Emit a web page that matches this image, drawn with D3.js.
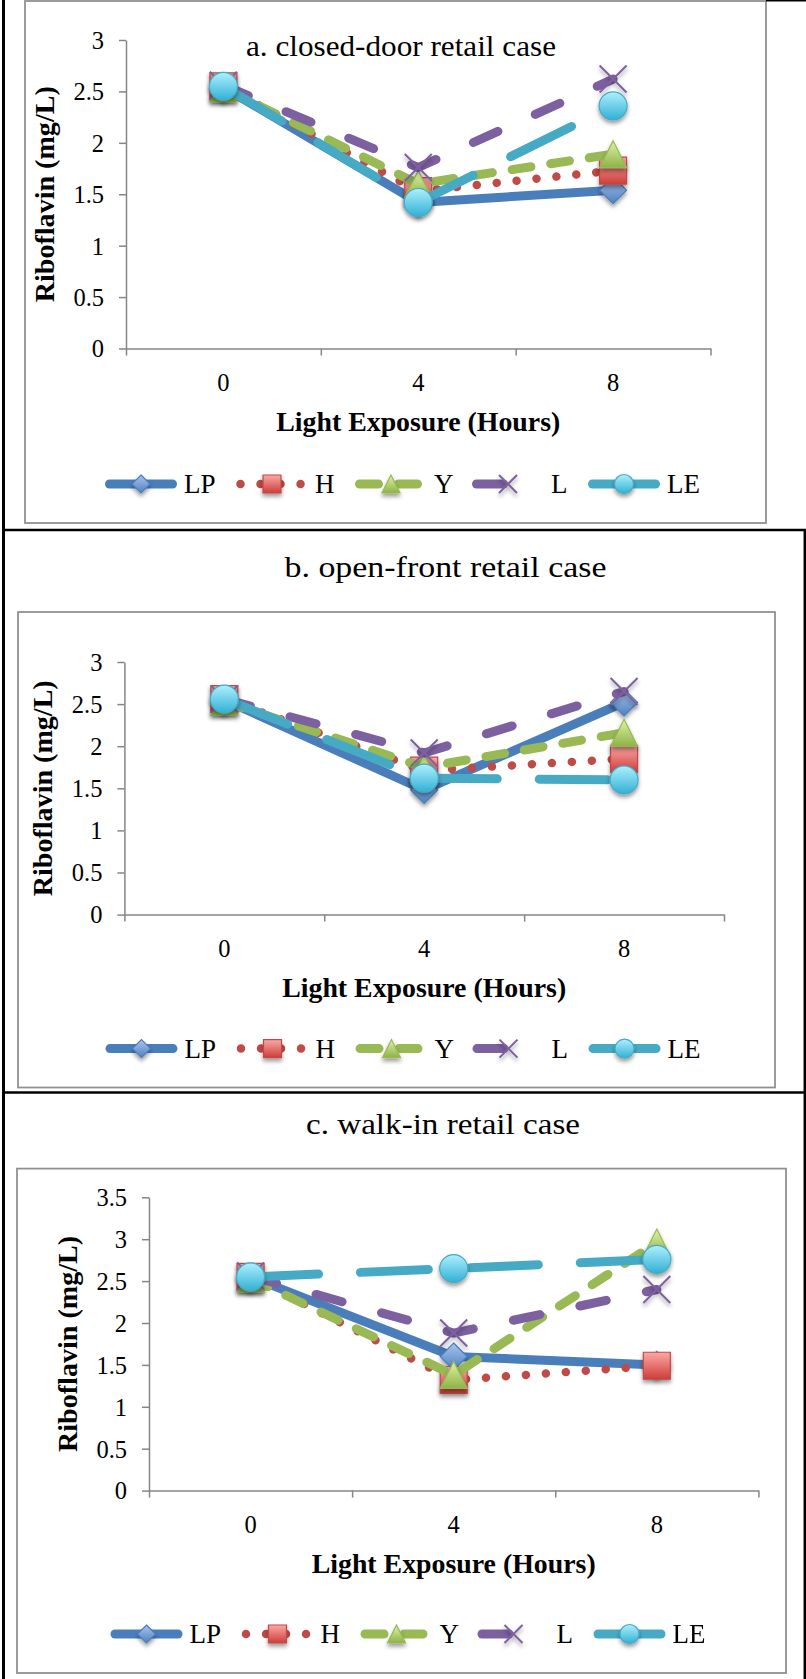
<!DOCTYPE html>
<html>
<head>
<meta charset="utf-8">
<script src="https://cdn.jsdelivr.net/npm/d3@7"></script>
<style>
  html, body { margin: 0; padding: 0; background: #fff; }
  svg { display: block; }
</style>
</head>
<body>
<svg id="fig" width="806" height="1679"></svg>
<script>
// ---- data ----------------------------------------------------------------
const hours = ["0", "4", "8"];
const seriesNames = ["LP", "H", "Y", "L", "LE"];

// riboflavin (mg/L), rows follow seriesNames, columns follow hours
const closedDoor = [
  [2.54, 1.42, 1.54],
  [2.55, 1.53, 1.73],
  [2.53, 1.60, 1.89],
  [2.56, 1.76, 2.62],
  [2.55, 1.42, 2.36]
];
const openFront = [
  [2.55, 1.48, 2.52],
  [2.56, 1.71, 1.85],
  [2.53, 1.75, 2.16],
  [2.56, 1.92, 2.65],
  [2.56, 1.62, 1.60]
];
const walkIn = [
  [2.55, 1.60, 1.50],
  [2.55, 1.32, 1.49],
  [2.53, 1.38, 2.96],
  [2.56, 1.88, 2.40],
  [2.55, 2.65, 2.76]
];

const yTicksAB = [0, 0.5, 1, 1.5, 2, 2.5, 3];
const yTicksC = [0, 0.5, 1, 1.5, 2, 2.5, 3, 3.5];
const panelTitles = ["a. closed-door retail case", "b. open-front retail case", "c. walk-in retail case"];
const yTitleText = "Riboflavin (mg/L)";
const xTitleText = "Light Exposure (Hours)";

// ---- styles ----------------------------------------------------------------
const style = {
  LP: { line: "#4a7ebb", width: 9, dash: null, marker: "diamond", grad: ["#a9c4ef", "#4f81bd"], edge: "#4a7ebb" },
  H:  { line: "#be4b48", width: 8.5, dash: "0.01 20", marker: "square", grad: ["#fca9a6", "#cd3d39"], edge: "#be4b48" },
  Y:  { line: "#98b954", width: 9, dash: "19 20", marker: "triangle", grad: ["#e0f2a6", "#8db347"], edge: "#98b954" },
  L:  { line: "#7d60a0", width: 9, dash: "27 41", marker: "x" },
  LE: { line: "#46aac5", width: 9, dash: "68 42", marker: "circle", grad: ["#aef0fd", "#31b0d5"], edge: "#46aac5" }
};

const panels = [
  { values: closedDoor, ticks: yTicksAB, title: panelTitles[0],
    frame: [25, 1, 766, 523], plot: { left: 126, right: 710.5, top: 40, bottom: 348.5 },
    titleX: 401, titleY: 56, titleW: 310, legendX: 105, legendY: 484 },
  { values: openFront, ticks: yTicksAB, title: panelTitles[1],
    frame: [18, 612, 775, 1087.5], plot: { left: 124.4, right: 724, top: 662, bottom: 914.6 },
    titleX: 445.5, titleY: 577, titleW: 322, legendX: 105.5, legendY: 1048.6 },
  { values: walkIn, ticks: yTicksC, title: panelTitles[2],
    frame: [17, 1168.6, 786, 1673], plot: { left: 149, right: 758.4, top: 1197.3, bottom: 1490.6 },
    titleX: 443, titleY: 1134, titleW: 274, legendX: 110.5, legendY: 1634 }
];

const legendOffsets = [0, 131, 250, 367, 483];
const serifFont = "'Liberation Serif', 'Times New Roman', serif";
const axisColor = "#868686";

const svg = d3.select("#fig");
const defs = svg.append("defs");

seriesNames.forEach(n => {
  const st = style[n];
  if (!st.grad) return;
  const g = defs.append("linearGradient").attr("id", "grad-" + n)
    .attr("x1", 0).attr("y1", 0).attr("x2", 0).attr("y2", 1);
  g.append("stop").attr("offset", "0%").attr("stop-color", st.grad[0]);
  g.append("stop").attr("offset", "100%").attr("stop-color", st.grad[1]);
});

const shadow = defs.append("filter").attr("id", "shadow")
  .attr("x", "-60%").attr("y", "-60%").attr("width", "220%").attr("height", "220%");
shadow.append("feDropShadow").attr("dx", 0).attr("dy", 3).attr("stdDeviation", 2)
  .attr("flood-color", "#000").attr("flood-opacity", 0.4);

function markerPath(type, s) {
  const h = s / 2;
  switch (type) {
    case "diamond": return `M0,${-h}L${h},0L0,${h}L${-h},0Z`;
    case "square": return `M${-h},${-h}H${h}V${h}H${-h}Z`;
    case "triangle": return `M0,${-h}L${h},${h}L${-h},${h}Z`;
    case "circle": return `M${-h},0A${h},${h} 0 1,0 ${h},0A${h},${h} 0 1,0 ${-h},0Z`;
    default: return `M${-h},${-h}L${h},${h}M${-h},${h}L${h},${-h}`;
  }
}

function drawMarker(parent, n, cx, cy, s) {
  const st = style[n];
  const p = parent.append("path")
    .attr("transform", `translate(${cx},${cy})`)
    .attr("d", markerPath(st.marker, st.marker === "circle" ? s + 1 : s));
  if (st.marker === "x") {
    p.attr("fill", "none").attr("stroke", st.line).attr("stroke-width", 2);
  } else {
    p.attr("fill", `url(#grad-${n})`).attr("stroke", st.edge).attr("stroke-width", 1.2);
  }
}

function strokeLine(sel, n) {
  const st = style[n];
  sel.attr("fill", "none")
    .attr("stroke", st.line)
    .attr("stroke-width", st.width)
    .attr("stroke-linecap", "round")
    .attr("stroke-linejoin", "round")
    .attr("stroke-dasharray", st.dash);
}

function serifText(sel, size) {
  sel.attr("font-family", serifFont).attr("font-size", size).attr("fill", "#000");
}

panels.forEach(p => {
  const g = svg.append("g");

  // chart area frame
  g.append("rect")
    .attr("x", p.frame[0]).attr("y", p.frame[1])
    .attr("width", p.frame[2] - p.frame[0]).attr("height", p.frame[3] - p.frame[1])
    .attr("fill", "none").attr("stroke", "#8e8e8e").attr("stroke-width", 1.75);

  const x = d3.scaleBand().domain(hours).range([p.plot.left, p.plot.right]);
  const y = d3.scaleLinear().domain([0, d3.max(p.ticks)]).range([p.plot.bottom, p.plot.top]);
  const xEdge = d3.scaleLinear().domain([0, hours.length]).range([p.plot.left, p.plot.right]);
  const cx = h => x(h) + x.bandwidth() / 2;

  // y axis
  const ya = g.append("g").attr("transform", `translate(${p.plot.left},0)`)
    .call(d3.axisLeft(y).tickValues(p.ticks).tickSize(7).tickSizeOuter(0).tickFormat(d => String(d)));
  ya.select(".domain").attr("stroke", axisColor).attr("stroke-width", 1.5);
  ya.selectAll(".tick line").attr("stroke", axisColor).attr("stroke-width", 1.5);
  ya.selectAll("text").attr("x", -22).attr("dy", "0.34em").call(serifText, 24.5);

  // x axis: tick marks between categories
  const xa = g.append("g").attr("transform", `translate(0,${p.plot.bottom})`)
    .call(d3.axisBottom(xEdge).tickValues(d3.range(hours.length + 1)).tickSize(7).tickSizeOuter(0).tickFormat(""));
  xa.select(".domain").attr("stroke", axisColor).attr("stroke-width", 1.5);
  xa.selectAll(".tick line").attr("stroke", axisColor).attr("stroke-width", 1.5);

  // x axis: category labels
  const xl = g.append("g").attr("transform", `translate(0,${p.plot.bottom})`)
    .call(d3.axisBottom(x).tickSize(0));
  xl.select(".domain").remove();
  xl.selectAll("text").attr("y", 34.5).attr("dy", "0.34em").call(serifText, 24.5);

  // axis titles
  g.append("text")
    .attr("transform", `translate(${p.plot.left - 72},${(p.plot.top + p.plot.bottom) / 2}) rotate(-90)`)
    .attr("text-anchor", "middle")
    .attr("font-family", serifFont).attr("font-weight", "bold").attr("font-size", 27.5)
    .attr("textLength", 216).attr("lengthAdjust", "spacingAndGlyphs")
    .text(yTitleText);
  g.append("text")
    .attr("x", (p.plot.left + p.plot.right) / 2).attr("y", p.plot.bottom + 82)
    .attr("text-anchor", "middle")
    .attr("font-family", serifFont).attr("font-weight", "bold").attr("font-size", 27.5)
    .attr("textLength", 284).attr("lengthAdjust", "spacingAndGlyphs")
    .text(xTitleText);

  // panel title
  g.append("text")
    .attr("x", p.titleX).attr("y", p.titleY)
    .attr("text-anchor", "middle")
    .attr("textLength", p.titleW).attr("lengthAdjust", "spacingAndGlyphs")
    .call(serifText, 29)
    .text(p.title);

  // series: line then markers, in series order
  const line = d3.line();
  seriesNames.forEach((n, i) => {
    const pts = p.values[i].map((v, j) => [cx(hours[j]), y(v)]);
    g.append("path").attr("d", line(pts)).call(strokeLine, n);
    const mg = g.append("g").attr("filter", "url(#shadow)");
    pts.forEach(pt => drawMarker(mg, n, pt[0], pt[1], 27));
  });

  // legend
  seriesNames.forEach((n, i) => {
    const lx = p.legendX + legendOffsets[i];
    const ly = p.legendY;
    g.append("path").attr("d", line([[lx + 4.5, ly], [lx + 67.5, ly]])).call(strokeLine, n);
    const mg = g.append("g").attr("filter", "url(#shadow)");
    drawMarker(mg, n, lx + 36, ly, 18);
    g.append("text")
      .attr("x", lx + 79).attr("y", ly).attr("dy", "0.34em")
      .call(serifText, 27)
      .text(n);
  });
});

// table rules around the three panels
const rules = svg.append("g").attr("stroke", "#000").attr("fill", "none");
rules.append("line").attr("x1", 3.5).attr("y1", 0).attr("x2", 3.5).attr("y2", 1679).attr("stroke-width", 3);
rules.append("line").attr("x1", 3.5).attr("y1", 530).attr("x2", 806).attr("y2", 530).attr("stroke-width", 2.5);
rules.append("line").attr("x1", 3.5).attr("y1", 1092.5).attr("x2", 806).attr("y2", 1092.5).attr("stroke-width", 2.5);
rules.append("line").attr("x1", 804.8).attr("y1", 530).attr("x2", 804.8).attr("y2", 1679).attr("stroke-width", 2.5);
rules.append("line").attr("x1", 766).attr("y1", 0.75).attr("x2", 806).attr("y2", 0.75).attr("stroke-width", 1.5);
</script>
</body>
</html>
